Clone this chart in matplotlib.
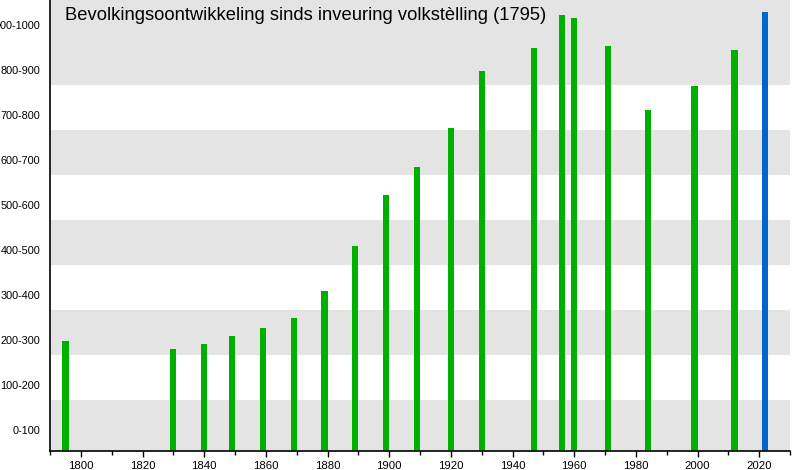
import matplotlib.pyplot as plt
from matplotlib.ticker import MultipleLocator

plt.rcParams['font.family'] = ['Liberation Sans', 'DejaVu Sans']

years = [1795, 1830, 1840, 1849, 1859, 1869, 1879, 1889, 1899, 1909, 1920,
         1930, 1947, 1956, 1960, 1971, 1984, 1999, 2012, 2022]
values = [244, 227, 238, 256, 273, 296, 356, 456, 569, 631, 718,
          844, 896, 969, 962, 900, 758, 811, 891, 976]
colors = ['#00b000'] * (len(years) - 1) + ['#0066cc']

range_labels = ['0-100', '100-200', '200-300', '300-400', '400-500',
                '500-600', '600-700', '700-800', '800-900', '900-1000']
label_pos = [47 + 100 * i for i in range(len(range_labels))]
gray_bands = [(0, 113), (213, 313), (413, 513), (613, 713), (813, 1010)]

fig = plt.figure(figsize=(8, 4.7), dpi=100)
ax = fig.add_axes([50 / 800, 19 / 470, 740 / 800, 451 / 470])

for lo, hi in gray_bands:
    ax.axhspan(lo, hi, color='#e4e4e4', lw=0, zorder=0)

ax.bar(years, values, width=2.0, color=colors, zorder=2)

ax.set_xlim(1790, 2030)
ax.set_ylim(0, 1002)
ax.xaxis.set_major_locator(MultipleLocator(20))
ax.xaxis.set_minor_locator(MultipleLocator(10))
ax.tick_params(axis='x', which='major', length=4, width=1, labelsize=8.2, pad=3)
ax.tick_params(axis='x', which='minor', length=3, width=1)
ax.set_yticks(label_pos)
ax.set_yticklabels(range_labels)
ax.tick_params(axis='y', length=0, labelsize=7.8, pad=7)

for s in ['top', 'right']:
    ax.spines[s].set_visible(False)
for s in ['left', 'bottom']:
    ax.spines[s].set_linewidth(1.2)
    ax.spines[s].set_color('black')

ax.text(15 / 740, 0.985,
        'Bevolkingsoontwikkeling sinds inveuring volkstèlling (1795)',
        transform=ax.transAxes, fontsize=13.2, va='top', ha='left', zorder=3)

fig.savefig('out.png', dpi=100)
